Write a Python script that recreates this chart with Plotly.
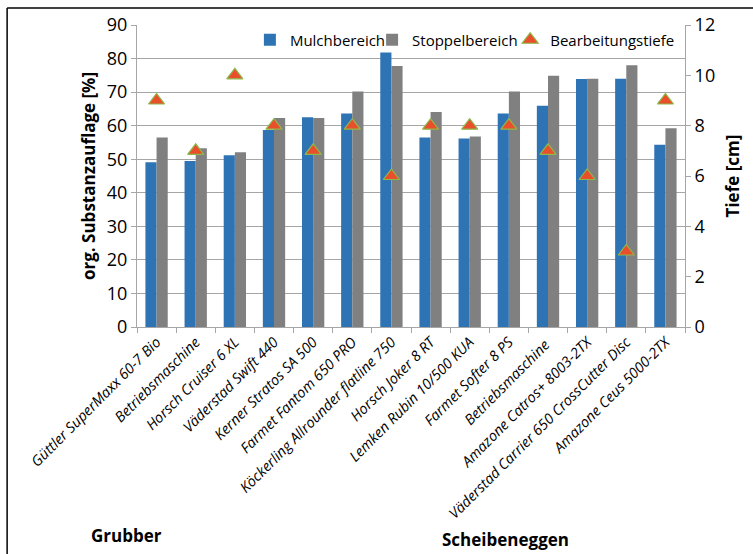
import plotly.graph_objects as go

categories = [
    "Güttler SuperMaxx 60-7 Bio", "Betriebsmaschine", "Horsch Cruiser 6 XL",
    "Väderstad Swift 440", "Kerner Stratos SA 500", "Farmet Fantom 650 PRO",
    "Köckerling Allrounder flatline 750", "Horsch Joker 8 RT",
    "Lemken Rubin 10/500 KUA", "Farmet Softer 8 PS", "Betriebsmaschine ",
    "Amazone Catros+ 8003-2TX", "Väderstad Carrier 650 CrossCutter Disc",
    "Amazone Ceus 5000-2TX",
]
mulch = [49.1, 49.5, 51.2, 58.7, 62.5, 63.6, 81.8, 56.5, 56.2, 63.6, 65.9, 73.9, 74.0, 54.3]
stoppel = [56.5, 53.3, 52.1, 62.3, 62.3, 70.2, 77.8, 64.1, 56.8, 70.2, 74.9, 74.0, 78.0, 59.2]
tiefe = [9, 7, 10, 8, 7, 8, 6, 8, 8, 8, 7, 6, 3, 9]
left_ticks = list(range(0, 91, 10))
right_ticks = list(range(0, 13, 2))

FONT = "Open Sans"
GRID = "#a6a6a6"

fig = go.Figure()
fig.add_trace(go.Bar(x=categories, y=mulch, name="Mulchbereich", legend="legend",
                     marker=dict(color="#2e74b5", line=dict(width=0))))
fig.add_trace(go.Bar(x=categories, y=stoppel, name="Stoppelbereich", legend="legend2",
                     marker=dict(color="#808080", line=dict(width=0))))
fig.add_trace(go.Scatter(x=categories, y=tiefe, name="Bearbeitungstiefe", yaxis="y2",
                         legend="legend3", mode="markers",
                         marker=dict(symbol="triangle-up", size=14, color="#ea4f2c",
                                     line=dict(color="#8cb94a", width=1.2))))

leg = dict(orientation="h", xanchor="left", y=1.005, yanchor="top",
           bgcolor="rgba(255,255,255,0)", font=dict(size=15, family=FONT),
           itemwidth=30)

fig.update_layout(
    width=753, height=554,
    margin=dict(l=137, r=68, t=23, b=227),
    paper_bgcolor="white", plot_bgcolor="white",
    barmode="group", bargap=0.43, bargroupgap=0,
    font=dict(family=FONT, color="black", size=15),
    showlegend=True,
    legend=dict(leg, x=0.206),
    legend2=dict(leg, x=0.429),
    legend3=dict(leg, x=0.681),
    xaxis=dict(
        tickangle=-45, tickfont=dict(size=14.5, family=FONT, style="italic"),
        showgrid=False, showline=True, linecolor=GRID, linewidth=1,
        ticks="outside", tickson="boundaries", ticklen=5, tickcolor=GRID,
        range=[-0.5, 13.5],
    ),
    yaxis=dict(
        range=[0, 90], tickvals=left_ticks, showgrid=True, gridcolor=GRID, gridwidth=1,
        showline=True, linecolor=GRID, linewidth=1,
        ticks="outside", ticklen=5, tickcolor=GRID,
        tickfont=dict(size=18), zeroline=False,
        title=dict(text="<b>org. Substanzauflage [%]</b>", font=dict(size=17), standoff=6),
    ),
    yaxis2=dict(
        range=[0, 12], tickvals=right_ticks, overlaying="y", side="right",
        showgrid=False, showline=True, linecolor=GRID, linewidth=1,
        ticks="outside", ticklen=5, tickcolor=GRID,
        tickfont=dict(size=18), zeroline=False,
        title=dict(text="<b>Tiefe [cm]</b>", font=dict(size=17), standoff=12),
    ),
    annotations=[
        dict(text="<b>Grubber</b>", xref="paper", yref="paper", x=-0.02, y=-0.69,
             xanchor="center", yanchor="middle", showarrow=False, font=dict(size=17)),
        dict(text="<b>Scheibeneggen</b>", xref="paper", yref="paper", x=0.673, y=-0.703,
             xanchor="center", yanchor="middle", showarrow=False, font=dict(size=17)),
    ],
    shapes=[
        dict(type="line", xref="paper", yref="paper", x0=-0.237, x1=1.2, y0=1.056, y1=1.056,
             line=dict(color="black", width=1.5)),
        dict(type="line", xref="paper", yref="paper", x0=-0.237, x1=-0.237, y0=1.056, y1=-0.85,
             line=dict(color="black", width=1.5)),
    ],
)

fig.write_html("out.html")
